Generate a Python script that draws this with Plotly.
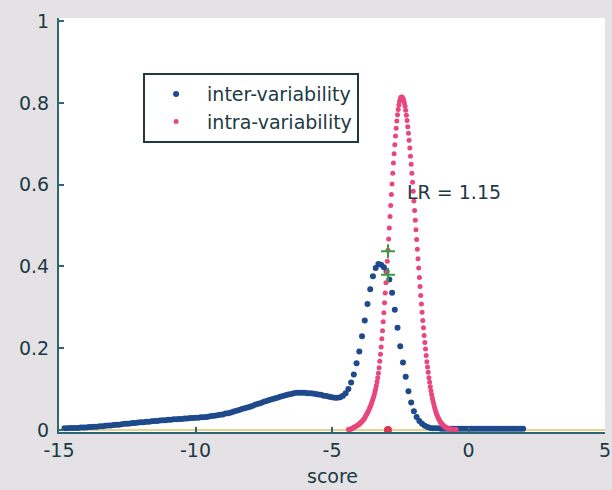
import numpy as np
import plotly.graph_objects as go

# ---- data ----
inter_x_start, inter_x_step, inter_n = -14.8, 0.1, 169
inter_y = [
    0.004, 0.004, 0.005, 0.005, 0.005, 0.005, 0.006, 0.006, 0.006, 0.007,
    0.007, 0.008, 0.008, 0.009, 0.009, 0.010, 0.011, 0.011, 0.012, 0.013,
    0.013, 0.014, 0.015, 0.015, 0.016, 0.017, 0.017, 0.018, 0.019, 0.019,
    0.020, 0.020, 0.021, 0.022, 0.022, 0.023, 0.024, 0.024, 0.025, 0.025,
    0.026, 0.026, 0.027, 0.027, 0.028, 0.028, 0.029, 0.029, 0.030, 0.030,
    0.031, 0.031, 0.032, 0.033, 0.034, 0.035, 0.036, 0.037, 0.038, 0.040,
    0.041, 0.043, 0.045, 0.047, 0.049, 0.051, 0.053, 0.055, 0.057, 0.059,
    0.062, 0.064, 0.066, 0.069, 0.071, 0.073, 0.075, 0.077, 0.079, 0.081,
    0.083, 0.085, 0.087, 0.088, 0.090, 0.091, 0.091, 0.091, 0.091, 0.090,
    0.090, 0.089, 0.088, 0.087, 0.086, 0.084, 0.083, 0.081, 0.080, 0.079,
    0.079, 0.080, 0.084, 0.090, 0.100, 0.116, 0.136, 0.163, 0.192, 0.229,
    0.268, 0.308, 0.344, 0.376, 0.396, 0.406, 0.404, 0.398, 0.388, 0.368,
    0.336, 0.294, 0.250, 0.205, 0.165, 0.130, 0.095, 0.067, 0.046, 0.032,
    0.022, 0.015, 0.010, 0.007, 0.005, 0.004, 0.004, 0.004, 0.003, 0.003,
    0.003, 0.003, 0.003, 0.003, 0.003, 0.003, 0.003, 0.003, 0.003, 0.003,
    0.003, 0.003, 0.003, 0.003, 0.003, 0.003, 0.003, 0.003, 0.003, 0.003,
    0.003, 0.003, 0.003, 0.003, 0.003, 0.003, 0.003, 0.003, 0.003,
]

intra_x_start, intra_x_step, intra_n = -4.40, 0.025, 159
intra_y = [
    0.001, 0.001, 0.002, 0.002, 0.003, 0.003, 0.004, 0.005, 0.006, 0.007,
    0.008, 0.009, 0.010, 0.011, 0.012, 0.013, 0.015, 0.016, 0.018, 0.019,
    0.021, 0.023, 0.025, 0.027, 0.030, 0.033, 0.036, 0.039, 0.042, 0.045,
    0.049, 0.053, 0.057, 0.061, 0.066, 0.071, 0.076,
    0.081, 0.087, 0.094, 0.101, 0.109, 0.118, 0.128, 0.139, 0.152, 0.168,
    0.185, 0.203, 0.223, 0.243, 0.265, 0.287, 0.311, 0.335, 0.360, 0.386,
    0.413, 0.440, 0.467, 0.494, 0.522, 0.549, 0.576, 0.602, 0.628, 0.653,
    0.676, 0.698, 0.719, 0.738, 0.756, 0.771, 0.784, 0.795, 0.804, 0.810,
    0.814, 0.815,
    0.814, 0.811, 0.807, 0.800, 0.792, 0.782, 0.770, 0.757, 0.742, 0.726,
    0.709, 0.690, 0.670, 0.650, 0.628, 0.606, 0.584, 0.560, 0.537, 0.513,
    0.490, 0.466, 0.442, 0.419, 0.396, 0.373, 0.351, 0.329, 0.308, 0.288,
    0.268, 0.250, 0.231, 0.214, 0.198, 0.182, 0.167, 0.154, 0.141, 0.128,
    0.117, 0.106, 0.096, 0.087, 0.078, 0.071,
    0.064, 0.057, 0.051, 0.045, 0.040, 0.036, 0.032, 0.028, 0.025, 0.022,
    0.019, 0.017, 0.015, 0.013, 0.011, 0.010, 0.008, 0.007, 0.006, 0.005,
    0.004, 0.004, 0.003, 0.003, 0.002, 0.002, 0.002, 0.002, 0.001, 0.001,
    0.001, 0.001, 0.001, 0.001,
]

score_x = [-2.95]
score_marks = [0.437, 0.380]   # intra and inter values at the score
lr_label = "LR = 1.15"
lr_label_pos = [-2.33, 0.582]
x_title = "score"

x_tickvals = [-15, -10, -5, 0, 5]
x_ticktext = ["-15", "-10", "-5", "0", "5"]
y_tickvals = [0, 0.2, 0.4, 0.6, 0.8, 1]
y_ticktext = ["0", "0.2", "0.4", "0.6", "0.8", "1"]

inter_x = np.round(inter_x_start + inter_x_step * np.arange(inter_n), 3)
intra_x = np.round(intra_x_start + intra_x_step * np.arange(intra_n), 3)

FONT = "DejaVu Sans"
TXT = "#1c3a44"
AX = "#2d6674"
BG = "#e4e2e4"

fig = go.Figure()
fig.add_trace(go.Scatter(
    x=inter_x, y=inter_y, mode="markers", name="inter-variability",
    marker=dict(color="#1e4a8c", size=6, line=dict(width=0)),
))
fig.add_trace(go.Scatter(
    x=intra_x, y=intra_y, mode="markers", name="intra-variability",
    marker=dict(color="#e8467c", size=5, line=dict(width=0)),
))
fig.add_trace(go.Scatter(
    x=score_x * len(score_marks), y=score_marks, mode="markers", showlegend=False,
    marker=dict(symbol="cross-thin", size=10, line=dict(color="#3c9a44", width=2)),
))
fig.add_trace(go.Scatter(
    x=score_x, y=[0], mode="markers", showlegend=False,
    marker=dict(color="#e0344a", size=8),
))

fig.add_annotation(
    x=lr_label_pos[0], y=lr_label_pos[1], text=lr_label, showarrow=False,
    xanchor="left", yanchor="middle", font=dict(family=FONT, size=19, color=TXT),
)
fig.add_annotation(
    xref="paper", yref="paper", x=0.5, y=-0.137, text=x_title, showarrow=False,
    xanchor="center", yanchor="bottom", font=dict(family=FONT, size=19, color=TXT),
)

fig.update_layout(
    width=612, height=490,
    margin=dict(l=59, r=7, t=18, b=58),
    paper_bgcolor=BG, plot_bgcolor="#ffffff",
    font=dict(family=FONT, size=19, color=TXT),
    showlegend=True,
    legend=dict(
        x=0.154, y=0.867, xanchor="left", yanchor="top",
        bgcolor="#ffffff", bordercolor="#1e3a40", borderwidth=2,
        font=dict(family=FONT, size=19, color=TXT),
        itemwidth=52, tracegroupgap=0,
    ),
    xaxis=dict(
        range=[-15, 5], tickvals=x_tickvals, ticktext=x_ticktext,
        ticks="inside", ticklen=5, tickcolor=AX, tickwidth=1.5,
        showline=True, linecolor=AX, linewidth=2,
        showgrid=False, zeroline=False, automargin=False,
        tickfont=dict(family=FONT, size=19, color=TXT),
    ),
    yaxis=dict(
        range=[-0.005, 1.008], tickvals=y_tickvals, ticktext=y_ticktext,
        ticks="inside", ticklen=5, tickcolor=AX, tickwidth=1.5,
        showline=True, linecolor=AX, linewidth=2,
        showgrid=False, zeroline=True, zerolinecolor="#e6d48c", zerolinewidth=1.5,
        automargin=False,
        tickfont=dict(family=FONT, size=19, color=TXT),
        ticklabelstandoff=4,
    ),
)

fig.write_html(
    "out.html",
    config={"displayModeBar": False},
    post_script="document.body.style.margin='0';document.body.style.background='%s';" % BG,
)
